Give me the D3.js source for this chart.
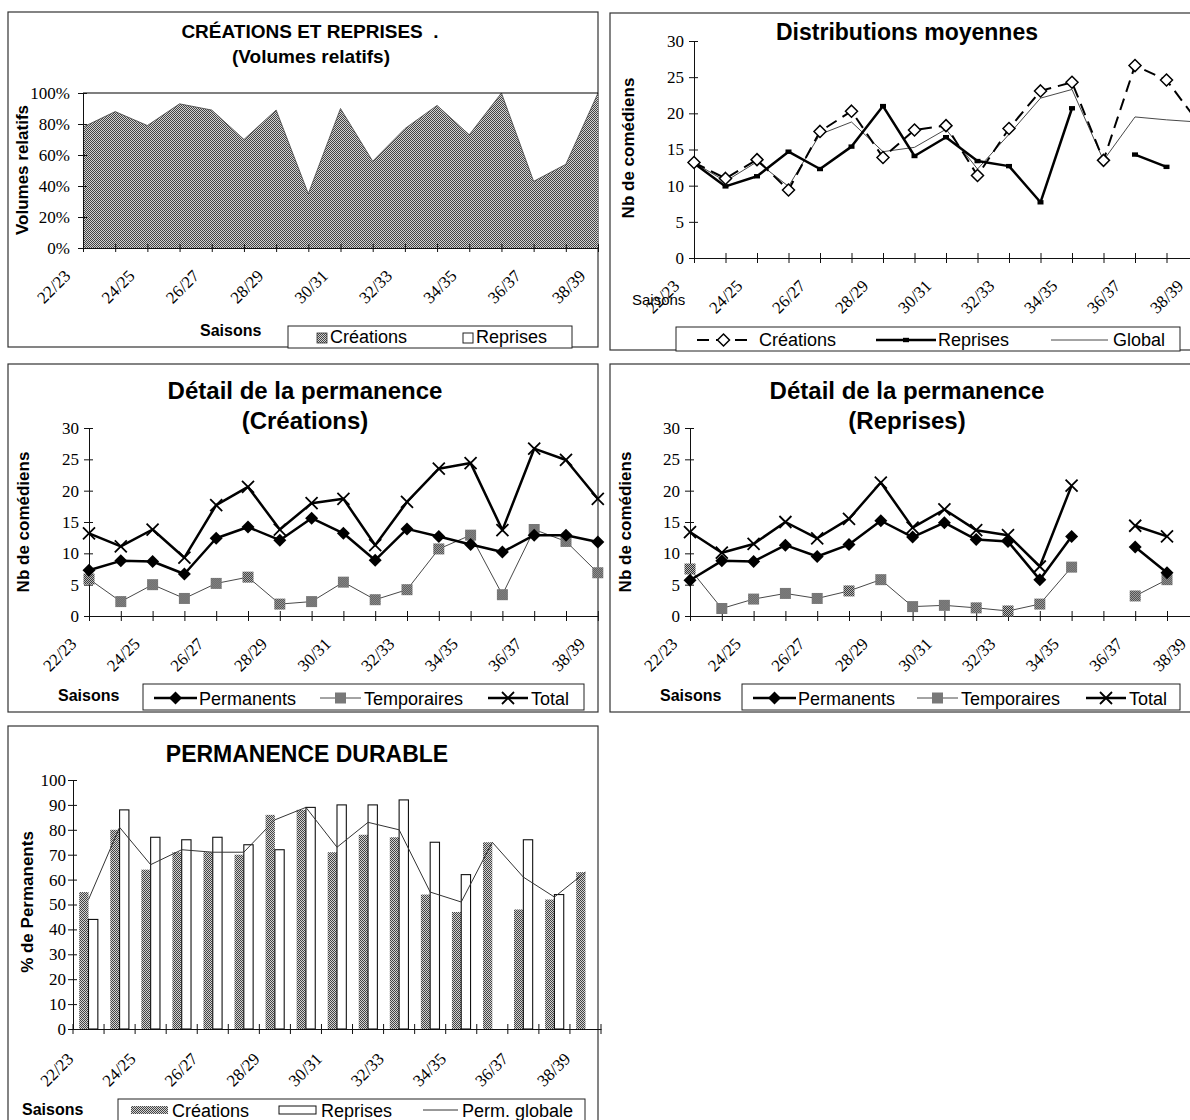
<!DOCTYPE html>
<html>
<head>
<meta charset="utf-8">
<script src="https://cdn.jsdelivr.net/npm/d3@7"></script>
<style>
  body { margin: 0; background: #fff; }
  svg { display: block; }
</style>
</head>
<body>
<script>

// Saisons communes aux cinq graphiques
var seasons = ['22/23','23/24','24/25','25/26','26/27','27/28','28/29','29/30','30/31',
               '31/32','32/33','33/34','34/35','35/36','36/37','37/38','38/39'];
var shownSeasons = ['22/23','24/25','26/27','28/29','30/31','32/33','34/35','36/37','38/39'];

// Créations et reprises : part des créations (%)
var volCreations = [78, 88, 79, 93, 89, 70, 89, 35, 90, 56, 77, 92, 73, 100, 43, 54, 100];

// Distributions moyennes (nb de comédiens)
var moyCreations = [13.2, 11.0, 13.6, 9.4, 17.5, 20.3, 13.9, 17.7, 18.3, 11.4, 17.9, 23.1, 24.3, 13.5, 26.6, 24.6, 18.8];
var moyReprises  = [13.1, 9.9, 11.3, 14.7, 12.3, 15.4, 21.0, 14.1, 16.7, 13.4, 12.7, 7.7, 20.7, null, 14.3, 12.6, null];
var moyGlobal    = [13.2, 10.6, 13.3, 9.9, 17.1, 18.8, 14.7, 15.3, 17.8, 12.3, 17.1, 22.1, 23.3, 13.5, 19.5, 19.1, 18.8];

// Détail de la permanence (Créations)
var crePermanents = [7.3, 8.8, 8.7, 6.7, 12.4, 14.2, 12.1, 15.6, 13.2, 8.9, 13.9, 12.7, 11.4, 10.2, 12.9, 12.9, 11.8];
var creTemporaires = [5.9, 2.3, 5.0, 2.8, 5.2, 6.2, 1.9, 2.3, 5.4, 2.6, 4.2, 10.7, 12.9, 3.4, 13.8, 11.9, 6.9];
var creTotal = [13.2, 11.1, 13.8, 9.3, 17.7, 20.6, 13.8, 18.0, 18.7, 11.3, 18.2, 23.5, 24.4, 13.7, 26.7, 24.9, 18.7];

// Détail de la permanence (Reprises)
var repPermanents = [5.7, 8.8, 8.7, 11.3, 9.5, 11.4, 15.2, 12.6, 14.9, 12.2, 11.9, 5.8, 12.7, null, 11.0, 6.9, null];
var repTemporaires = [7.5, 1.2, 2.7, 3.6, 2.8, 4.0, 5.8, 1.5, 1.7, 1.3, 0.8, 1.9, 7.8, null, 3.2, 5.8, null];
var repTotal = [13.4, 10.1, 11.5, 15.0, 12.4, 15.5, 21.3, 14.1, 17.0, 13.7, 12.9, 7.9, 20.8, null, 14.4, 12.7, null];

// Permanence durable (% de permanents)
var durCreations = [55, 80, 64, 71, 71, 70, 86, 88, 71, 78, 77, 54, 47, 75, 48, 52, 63];
var durReprises  = [44, 88, 77, 76, 77, 74, 72, 89, 90, 90, 92, 75, 62, null, 76, 54, null];
var durGlobale   = [52, 81, 66, 72, 71, 71, 84, 89, 73, 83, 80, 55, 51, 75, 61, 53, 63];

var pctTicks = [0, 20, 40, 60, 80, 100];
var nbTicks = [0, 5, 10, 15, 20, 25, 30];
var durTicks = [0, 10, 20, 30, 40, 50, 60, 70, 80, 90, 100];

var sans = '"Liberation Sans", Arial, Helvetica, sans-serif',
    serif = '"Liberation Serif", "Times New Roman", serif';

var svg = d3.select('body').append('svg')
    .attr('width', 1190)
    .attr('height', 1120);

// grey dither used for the filled marks
var defs = svg.append('defs');
var addDots = (id, light, dark) => {
  var p = defs.append('pattern').attr('id', id)
      .attr('width', 2).attr('height', 2)
      .attr('patternUnits', 'userSpaceOnUse');
  p.append('rect').attr('width', 2).attr('height', 2).attr('fill', light);
  p.append('rect').attr('width', 1).attr('height', 1).attr('fill', dark);
  p.append('rect').attr('x', 1).attr('y', 1).attr('width', 1).attr('height', 1).attr('fill', dark);
};
addDots('dots', '#d2d2d2', '#444');
addDots('dotsDark', '#bcbcbc', '#333');

var text = (x, y, s, size, weight, anchor, family) => {
  return svg.append('text')
      .attr('x', x).attr('y', y)
      .attr('text-anchor', anchor || 'start')
      .style('font-family', family || sans)
      .style('font-size', size + 'px')
      .style('font-weight', weight || 'normal')
      .style('white-space', 'pre')
      .text(s);
};

var yTitle = (x, y, s) => {
  svg.append('text')
      .attr('transform', 'translate(' + x + ',' + y + ') rotate(-90)')
      .attr('text-anchor', 'middle')
      .style('font-family', sans)
      .style('font-size', '17px')
      .style('font-weight', 'bold')
      .text(s);
};

var frame = (x, y, w, h) => {
  svg.append('rect')
      .attr('x', x).attr('y', y).attr('width', w).attr('height', h)
      .attr('fill', 'none').attr('stroke', '#333').attr('stroke-width', 1.2);
};

var legendBox = (x, y, w, h) => {
  svg.append('rect')
      .attr('x', x).attr('y', y).attr('width', w).attr('height', h)
      .attr('fill', '#fff').attr('stroke', '#222').attr('stroke-width', 1);
};

// marker shapes
var diamond = r => 'M0,' + (-r) + 'L' + r + ',0L0,' + r + 'L' + (-r) + ',0Z';
var cross = r => 'M' + (-r) + ',' + (-r) + 'L' + r + ',' + r + 'M' + (-r) + ',' + r + 'L' + r + ',' + (-r);
var square = (w, h) => 'M' + (-w) + ',' + (-h) + 'h' + 2 * w + 'v' + 2 * h + 'h' + (-2 * w) + 'Z';

var yAxis = (x0, y, ticks, fmt, pad) => {
  var ax = svg.append('g')
      .attr('transform', 'translate(' + x0 + ',0)')
      .call(d3.axisLeft(y).tickValues(ticks).tickSize(5).tickSizeOuter(0).tickPadding(pad).tickFormat(fmt));
  ax.select('.domain').attr('stroke', '#111');
  ax.selectAll('.tick line').attr('x1', 4).attr('stroke', '#111');
  ax.selectAll('.tick text')
      .attr('fill', '#000')
      .style('font-family', serif)
      .style('font-size', '17px');
  return ax;
};

var xAxis = (x, y0, dx, dy, tickSize) => {
  var ax = svg.append('g')
      .attr('transform', 'translate(0,' + y0 + ')')
      .call(d3.axisBottom(x).tickSize(tickSize).tickSizeOuter(0)
        .tickFormat(d => shownSeasons.includes(d) ? d : ''));
  ax.select('.domain').attr('stroke', '#111');
  ax.selectAll('.tick line').attr('y1', -tickSize).attr('stroke', '#111');
  ax.selectAll('.tick text')
      .attr('y', 0).attr('dy', 0)
      .attr('text-anchor', 'end')
      .attr('fill', '#000')
      .attr('transform', 'translate(' + dx + ',' + dy + ') rotate(-45)')
      .style('font-family', serif)
      .style('font-size', '17px');
  return ax;
};

var drawSeries = (x, y, values, s) => {
  var line = d3.line()
      .defined(d => d != null)
      .x((d, i) => x(seasons[i]))
      .y(d => y(d));
  svg.append('path')
      .datum(values)
      .attr('d', line)
      .attr('fill', 'none')
      .attr('stroke', s.stroke || '#000')
      .attr('stroke-width', s.width)
      .attr('stroke-dasharray', s.dash || null)
      .attr('stroke-linejoin', 'round');
  if (s.marker) {
    svg.append('g').selectAll('path')
        .data(values.map((v, i) => [v, i]).filter(d => d[0] != null))
        .enter()
        .append('path')
        .attr('transform', d => 'translate(' + x(seasons[d[1]]) + ',' + y(d[0]) + ')')
        .attr('d', s.marker)
        .attr('fill', s.fill)
        .attr('stroke', s.mstroke || 'none')
        .attr('stroke-width', s.mwidth || 0);
  }
};

// legend sample: a short line with an optional marker in its middle
var legendSample = (x1, x2, y, s) => {
  svg.append('line')
      .attr('x1', x1).attr('x2', x2).attr('y1', y).attr('y2', y)
      .attr('stroke', s.stroke || '#000').attr('stroke-width', s.width)
      .attr('stroke-dasharray', s.dash || null);
  if (s.marker) {
    svg.append('path')
        .attr('transform', 'translate(' + (x1 + x2) / 2 + ',' + y + ')')
        .attr('d', s.marker)
        .attr('fill', s.fill)
        .attr('stroke', s.mstroke || 'none')
        .attr('stroke-width', s.mwidth || 0);
  }
};

// ---------- 1. CRÉATIONS ET REPRISES ----------
var createVolumes = () => {
  frame(8, 12, 590, 335);
  text(310, 38, 'CRÉATIONS ET REPRISES  .', 19, 'bold', 'middle');
  text(311, 63, '(Volumes relatifs)', 19, 'bold', 'middle');

  var x = d3.scalePoint().domain(seasons).range([83, 598]);
  var y = d3.scaleLinear().domain([0, 100]).range([248, 93]);

  svg.append('path')
      .datum(volCreations)
      .attr('d', d3.area().x((d, i) => x(seasons[i])).y0(y(0)).y1(d => y(d)))
      .attr('fill', 'url(#dots)');
  svg.append('path')
      .datum(volCreations)
      .attr('d', d3.line().x((d, i) => x(seasons[i])).y(d => y(d)))
      .attr('fill', 'none').attr('stroke', '#444').attr('stroke-width', 0.8);
  svg.append('path')
      .datum(volCreations)
      .attr('d', d3.line().x((d, i) => x(seasons[i])).y(y(100)))
      .attr('fill', 'none').attr('stroke', '#000').attr('stroke-width', 1.2);

  yAxis(83, y, pctTicks, d => d + '%', 8);
  xAxis(x, 248, -12, 29, 4);
  yTitle(28, 170, 'Volumes relatifs');

  text(200, 336, 'Saisons', 16, 'bold');
  legendBox(288, 326, 284, 22);
  svg.append('rect').attr('x', 317).attr('y', 333).attr('width', 10).attr('height', 10)
      .attr('fill', 'url(#dots)').attr('stroke', '#333').attr('stroke-width', 0.8);
  text(330, 343, 'Créations', 18);
  svg.append('rect').attr('x', 463).attr('y', 333).attr('width', 10).attr('height', 10)
      .attr('fill', '#fff').attr('stroke', '#222').attr('stroke-width', 1);
  text(476, 343, 'Reprises', 18);
};

// ---------- 2. Distributions moyennes ----------
var createDistributions = () => {
  frame(610, 13, 600, 337);
  text(907, 40, 'Distributions moyennes', 23, 'bold', 'middle');

  var x = d3.scalePoint().domain(seasons).range([694, 694 + 16 * 31.5]);
  var y = d3.scaleLinear().domain([0, 30]).range([258, 41]);

  yAxis(694, y, nbTicks, d => d, 5);
  xAxis(x, 258, -14, 29, 5);
  yTitle(634, 148, 'Nb de comédiens');

  var sGlobal = { width: 0.9, stroke: '#333' };
  var sRep = { width: 2.5, marker: square(3, 2.2), fill: '#000' };
  var sCre = { width: 2, dash: '12,7', marker: diamond(6), fill: '#fff', mstroke: '#000', mwidth: 1.5 };
  drawSeries(x, y, moyGlobal, sGlobal);
  drawSeries(x, y, moyReprises, sRep);
  drawSeries(x, y, moyCreations, sCre);

  text(632, 305, 'Saisons', 15);
  legendBox(676, 327, 504, 24);
  legendSample(697, 750, 340, sCre);
  text(759, 346, 'Créations', 18);
  legendSample(876, 936, 340, sRep);
  text(938, 346, 'Reprises', 18);
  legendSample(1051, 1108, 340, sGlobal);
  text(1113, 346, 'Global', 18);
};

// ---------- 3 & 4. Détail de la permanence ----------
var sPerm = { width: 2.5, marker: diamond(6.5), fill: '#000' };
var sTemp = { width: 0.9, stroke: '#333', marker: square(5.5, 5.5), fill: 'url(#dotsDark)' };
var sTot = { width: 2.5, marker: cross(6), fill: 'none', mstroke: '#000', mwidth: 1.8 };

var createDetail = (left, x0, sub, perm, temp, tot, lg) => {
  frame(left, 364, 590, 348);
  text(left + 297, 399, 'Détail de la permanence', 24, 'bold', 'middle');
  text(left + 297, 429, sub, 24, 'bold', 'middle');

  var x = d3.scalePoint().domain(seasons).range([x0, x0 + 16 * 31.8]);
  var y = d3.scaleLinear().domain([0, 30]).range([616, 428]);

  yAxis(x0, y, nbTicks, d => d, 5);
  xAxis(x, 616, -12, 29, 5);
  yTitle(left + 21, 522, 'Nb de comédiens');

  drawSeries(x, y, temp, sTemp);
  drawSeries(x, y, tot, sTot);
  drawSeries(x, y, perm, sPerm);

  text(lg.saisons, 701, 'Saisons', 16, 'bold');
  legendBox(lg.box, 684, lg.boxW, 26);
  legendSample(lg.perm, lg.perm + 43, 698, sPerm);
  text(lg.perm + 45, 705, 'Permanents', 18);
  legendSample(lg.temp, lg.temp + 41, 698, sTemp);
  text(lg.temp + 44, 705, 'Temporaires', 18);
  legendSample(lg.tot, lg.tot + 40, 698, sTot);
  text(lg.tot + 43, 705, 'Total', 18);
};

// ---------- 5. PERMANENCE DURABLE ----------
var createDurable = () => {
  frame(8, 726, 590, 410);
  text(307, 762, 'PERMANENCE DURABLE', 23, 'bold', 'middle');

  var x = d3.scaleBand().domain(seasons).range([73, 601]);
  var y = d3.scaleLinear().domain([0, 100]).range([1029, 780]);
  var bw = x.bandwidth() * 0.3;

  svg.append('g').selectAll('rect')
      .data(durCreations)
      .enter()
      .append('rect')
      .attr('x', (d, i) => x(seasons[i]) + x.bandwidth() / 2 - bw)
      .attr('y', d => y(d))
      .attr('width', bw)
      .attr('height', d => y(0) - y(d))
      .attr('fill', 'url(#dots)');

  svg.append('g').selectAll('rect')
      .data(durReprises.map((v, i) => [v, i]).filter(d => d[0] != null))
      .enter()
      .append('rect')
      .attr('x', d => x(seasons[d[1]]) + x.bandwidth() / 2)
      .attr('y', d => y(d[0]))
      .attr('width', bw)
      .attr('height', d => y(0) - y(d[0]))
      .attr('fill', '#fff').attr('stroke', '#111').attr('stroke-width', 1.1);

  svg.append('path')
      .datum(durGlobale)
      .attr('d', d3.line().x((d, i) => x(seasons[i]) + x.bandwidth() / 2).y(d => y(d)))
      .attr('fill', 'none').attr('stroke', '#333').attr('stroke-width', 1);

  yAxis(73, y, durTicks, d => d, 2);

  // labels centred on the bands, tick marks on the band edges
  xAxis(x, 1029, -14, 31, 0);
  svg.append('g').selectAll('line')
      .data(seasons.concat(['end']))
      .enter()
      .append('line')
      .attr('x1', d => d == 'end' ? x.range()[1] : x(d))
      .attr('x2', d => d == 'end' ? x.range()[1] : x(d))
      .attr('y1', 1024).attr('y2', 1034)
      .attr('stroke', '#111');

  yTitle(33, 902, '% de Permanents');

  text(22, 1115, 'Saisons', 16, 'bold');
  legendBox(118, 1099, 467, 30);
  svg.append('rect').attr('x', 131).attr('y', 1106).attr('width', 37).attr('height', 8)
      .attr('fill', 'url(#dots)');
  text(172, 1117, 'Créations', 18);
  svg.append('rect').attr('x', 279).attr('y', 1106).attr('width', 37).attr('height', 8)
      .attr('fill', '#fff').attr('stroke', '#111').attr('stroke-width', 1);
  text(321, 1117, 'Reprises', 18);
  legendSample(423, 458, 1110, { width: 1, stroke: '#333' });
  text(462, 1117, 'Perm. globale', 18);
};

createVolumes();
createDistributions();
createDetail(8, 89, '(Créations)', crePermanents, creTemporaires, creTotal,
  { saisons: 58, box: 143, boxW: 441, perm: 154, temp: 320, tot: 488 });
createDetail(610, 690, '(Reprises)', repPermanents, repTemporaires, repTotal,
  { saisons: 660, box: 742, boxW: 438, perm: 753, temp: 917, tot: 1086 });
createDurable();

</script>
</body>
</html>
